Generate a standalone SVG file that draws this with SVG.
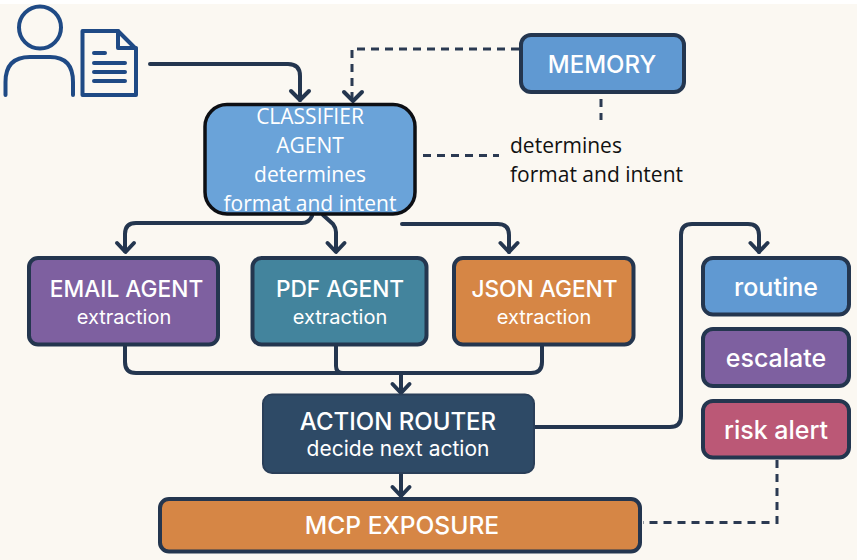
<svg xmlns="http://www.w3.org/2000/svg" width="857" height="560" viewBox="0 0 857 560">
<style>
.bg{fill:#fbf8f2}
.n{stroke:#24364f;stroke-width:4}
.t{font-family:"Inter","Noto Sans",sans-serif;fill:#fff;text-anchor:middle;font-weight:500}
.l{font-family:"Inter","Noto Sans",sans-serif;fill:#fff;text-anchor:middle;font-weight:400}
.s{font-family:"Open Sans","Noto Sans",sans-serif;font-size:21px}
.c{fill:none;stroke:#24364f;stroke-width:4;stroke-linecap:round;stroke-linejoin:round}
.d{fill:none;stroke:#2b3a52;stroke-width:3;stroke-dasharray:8 6}
.i{fill:none;stroke:#1f4a85;stroke-width:4;stroke-linecap:round;stroke-linejoin:round}
.il{fill:none;stroke:#1f4a85;stroke-width:4;stroke-linecap:round}
</style>
<rect class="bg" width="857" height="560"/>
<rect width="857" height="4" fill="#fff"/>
<g id="connectors">
<path class="c" d="M150 64H288Q300 64 300 76V100"/>
<path d="M291 91L300 100L309 91" class="c"/>
<path class="d" d="M519 49H352V98"/>
<path d="M344 92L353 101L362 92" class="c"/>
<path class="d" d="M601 99V120"/>
<path class="d" d="M423 155.500H499"/>
<path class="c" d="M312 216Q309 223 302 223H136Q125 223 125 234V251"/>
<path d="M117 243L125.500 252L134 243" class="c"/>
<path class="c" d="M323 215L333 224Q336 228 336 232V251"/>
<path d="M327.500 243L336 252L344.500 243" class="c"/>
<path class="c" d="M402 224H498Q509 224 509 235V252"/>
<path d="M500.500 243L509 252L517.500 243" class="c"/>
<path class="c" d="M534 427H670Q681 427 681 416V235Q681 224 692 224H748Q759 224 759 235V252"/>
<path d="M750.500 243L759 252L767.500 243" class="c"/>
<path class="c" d="M125 346V362Q125 373 136 373H531Q542 373 542 362V346"/>
<path class="c" d="M336 346V366Q336 373 343 373"/>
<path class="c" d="M401 373V392"/>
<path d="M392.500 384L401 393L409.500 384" class="c"/>
<path class="c" d="M401 473V495"/>
<path d="M392.500 487L401 496L409.500 487" class="c"/>
<path class="d" d="M777 460V522.500H643"/>
</g>
<g id="user"><circle class="i" cx="40" cy="27.500" r="21"/><path class="i" d="M5.500 95V82Q5.500 57 30 57H50Q73 57 73 82V95"/></g>
<g id="document"><path class="i" d="M82.500 31H118L136 49V95H82.500Z"/><path class="i" d="M118 31V48H136"/><path class="il" d="M94 53H105M94 63H125M94 72H125M94 81H125"/></g>
<g id="classifier"><rect x="205" y="104.500" width="210" height="109.500" rx="22" fill="#6aa3d9" stroke="#0d0f14" stroke-width="3.500"/>
<text class="s" x="310" y="124" text-anchor="middle" fill="#fff">CLASSIFIER</text><text class="s" x="310" y="153" text-anchor="middle" fill="#fff">AGENT</text><text class="s" x="310" y="182" text-anchor="middle" fill="#fff">determines</text><text class="s" x="310" y="211" text-anchor="middle" fill="#fff">format and intent</text></g>
<g id="memory"><rect class="n" x="521" y="35" width="163" height="57" rx="10" fill="#6099d2"/><text class="t" x="602" y="73" font-size="24">MEMORY</text></g>
<g id="note"><text class="s" x="510" y="153" fill="#111">determines</text><text class="s" x="510" y="182" fill="#111">format and intent</text></g>
<g id="email"><rect class="n" x="29" y="258" width="189" height="86.500" rx="9" fill="#7e60a0"/><text class="t" x="126.500" y="297" font-size="22.700">EMAIL AGENT</text><text class="l" x="124" y="324" font-size="20">extraction</text></g>
<g id="pdf"><rect class="n" x="252.500" y="258" width="174" height="86.500" rx="9" fill="#43849d"/><text class="t" x="340" y="297" font-size="22.700">PDF AGENT</text><text class="l" x="340" y="324" font-size="20">extraction</text></g>
<g id="json"><rect class="n" x="454" y="258" width="179.500" height="86.500" rx="9" fill="#d68645"/><text class="t" x="544.500" y="297" font-size="22.700">JSON AGENT</text><text class="l" x="544" y="324" font-size="20">extraction</text></g>
<g id="routine"><rect class="n" x="703" y="258" width="146" height="56.500" rx="10" fill="#6099d2"/><text class="t" x="776" y="295.500" font-size="25">routine</text></g>
<g id="escalate"><rect class="n" x="703" y="329" width="146" height="57" rx="10" fill="#7e60a0"/><text class="t" x="776" y="367" font-size="25">escalate</text></g>
<g id="risk"><rect class="n" x="703" y="401" width="146" height="56.500" rx="10" fill="#bb5876"/><text class="t" x="776" y="438.500" font-size="25">risk alert</text></g>
<g id="router"><rect x="263" y="394.500" width="271" height="78.500" rx="9" fill="#2e4a66" stroke="#2a3f59" stroke-width="2"/><text class="t" x="398" y="430" font-size="24">ACTION ROUTER</text><text class="l" x="398" y="456" font-size="21">decide next action</text></g>
<g id="mcp"><rect class="n" x="160" y="499" width="480" height="52.500" rx="9" fill="#d68645"/><text class="t" x="402" y="534" font-size="24.600">MCP EXPOSURE</text></g>
</svg>
